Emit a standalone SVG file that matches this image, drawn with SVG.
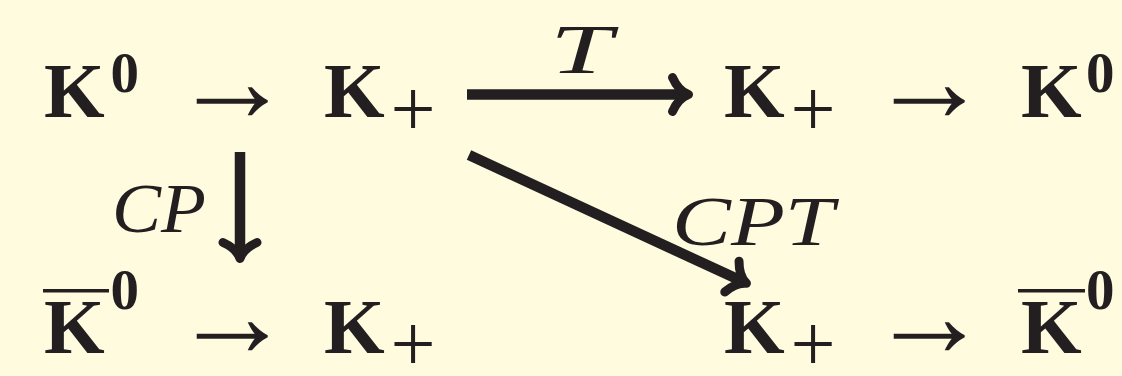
<svg xmlns="http://www.w3.org/2000/svg" width="1122" height="376" viewBox="0 0 1122 376">
<style>
.k{font-family:"Liberation Serif","Times New Roman",serif;font-weight:bold;font-size:78px;fill:#231f20}
.sup{font-family:"Liberation Serif","Times New Roman",serif;font-weight:bold;font-size:57px;fill:#231f20}
.plus{font-family:"Liberation Serif","Times New Roman",serif;font-size:80px;fill:#231f20;text-anchor:middle}
.to{font-family:"Liberation Serif","DejaVu Serif",serif;font-size:120px;fill:#231f20}
.lbl{font-family:"Liberation Serif","Times New Roman",serif;font-style:italic;font-size:70px;fill:#231f20}
.bar{fill:#231f20}
.conn{fill:none;stroke:#231f20;stroke-width:10.5;marker-end:url(#head)}
</style>
<defs>
<marker id="head" markerUnits="userSpaceOnUse" markerWidth="60" markerHeight="60" viewBox="-30 -30 60 60" refX="0" refY="0" orient="auto" overflow="visible">
<path d="M-12,-17 Q-6,-3.5 4,0 Q-6,3.5 -12,17" fill="none" stroke="#231f20" stroke-width="9" stroke-linecap="round" stroke-linejoin="round"/>
</marker>
</defs>
<rect width="1122" height="376" fill="#fffbdf"/>
<g id="node-top-left">
<text class="k" x="44" y="117">K</text><text class="sup" x="110.5" y="92">0</text>
<text class="to" x="172" y="121">→</text>
<text class="k" x="324" y="117">K</text><text class="plus" x="413" y="136">+</text>
</g>
<g id="node-top-right">
<text class="k" x="724" y="117">K</text><text class="plus" x="813" y="136">+</text>
<text class="to" x="869" y="121">→</text>
<text class="k" x="1021" y="117">K</text><text class="sup" x="1086" y="92">0</text>
</g>
<g id="node-bottom-left">
<rect class="bar" x="43" y="289" width="66" height="3.5"/>
<text class="k" x="44" y="353">K</text><text class="sup" x="110.5" y="309">0</text>
<text class="to" x="172" y="356">→</text>
<text class="k" x="324" y="353">K</text><text class="plus" x="413" y="371">+</text>
</g>
<g id="node-bottom-right">
<text class="k" x="724" y="353">K</text><text class="plus" x="813" y="371">+</text>
<text class="to" x="869" y="356">→</text>
<rect class="bar" x="1018" y="289" width="67" height="3.5"/>
<text class="k" x="1021" y="353">K</text><text class="sup" x="1086" y="309">0</text>
</g>
<g id="connectors">
<path class="conn" d="M467,94.5 L684.5,94.5"/>
<path class="conn" d="M240,152 L240,254.5"/>
<path class="conn" d="M469,155 L742.8,281.6"/>
<text class="lbl" x="550" y="73" textLength="62" lengthAdjust="spacingAndGlyphs">T</text>
<text class="lbl" x="112" y="232" textLength="94" lengthAdjust="spacingAndGlyphs">CP</text>
<text class="lbl" x="672" y="245" textLength="162" lengthAdjust="spacingAndGlyphs">CPT</text>
</g>
</svg>
